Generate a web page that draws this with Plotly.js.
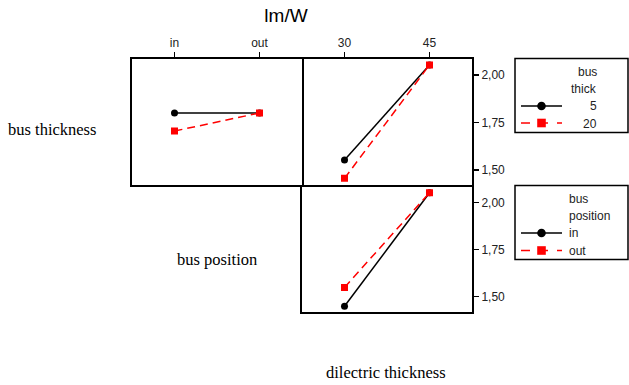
<!DOCTYPE html>
<html>
<head>
<meta charset="utf-8">
<script src="https://cdn.plot.ly/plotly-3.0.1.min.js"></script>
<style>html,body{margin:0;padding:0;background:#fff;}#chart{width:629px;height:385px;}</style>
</head>
<body>
<div id="chart"></div>
<script>
// ---- data ----
var busPositionCats = ['in', 'out'];
var dielectricCats = ['30', '45'];
var thick5_byPosition = [1.80, 1.80];
var thick20_byPosition = [1.705, 1.80];
var thick5_byDielectric = [1.553, 2.053];
var thick20_byDielectric = [1.456, 2.053];
var posIn_byDielectric = [1.45, 2.053];
var posOut_byDielectric = [1.55, 2.053];
var yTickVals = [1.50, 1.75, 2.00];
var legend1Labels = ['5', '20'];
var legend2Labels = ['in', 'out'];

// ---- layout helpers ----
var W = 629, H = 385;
function px(x) { return x / W; }
function py(y) { return 1 - y / H; }

var blackLine = {color: '#000', width: 1.5};
var redLine = {color: '#ff0000', width: 1.5, dash: '8px,5px'};
var blackMarker = {color: '#000', size: 7, symbol: 'circle'};
var redMarker = {color: '#ff0000', size: 7, symbol: 'square'};

var traces = [
  {x: busPositionCats, y: thick5_byPosition, xaxis: 'x', yaxis: 'y', mode: 'lines+markers', line: blackLine, marker: blackMarker, showlegend: false, name: '5'},
  {x: busPositionCats, y: thick20_byPosition, xaxis: 'x', yaxis: 'y', mode: 'lines+markers', line: redLine, marker: redMarker, showlegend: false, name: '20'},
  {x: dielectricCats, y: thick5_byDielectric, xaxis: 'x2', yaxis: 'y2', mode: 'lines+markers', line: blackLine, marker: blackMarker, showlegend: false, name: '5'},
  {x: dielectricCats, y: thick20_byDielectric, xaxis: 'x2', yaxis: 'y2', mode: 'lines+markers', line: redLine, marker: redMarker, showlegend: false, name: '20'},
  {x: dielectricCats, y: posIn_byDielectric, xaxis: 'x3', yaxis: 'y3', mode: 'lines+markers', line: blackLine, marker: blackMarker, showlegend: false, name: 'in'},
  {x: dielectricCats, y: posOut_byDielectric, xaxis: 'x3', yaxis: 'y3', mode: 'lines+markers', line: redLine, marker: redMarker, showlegend: false, name: 'out'}
];

var tickFont = {family: 'Liberation Sans, Arial, sans-serif', size: 12, color: '#222'};
function frameAxis(extra) {
  var a = {showline: true, mirror: true, linecolor: '#000', linewidth: 2, showgrid: false, zeroline: false,
           tickfont: tickFont, tickcolor: '#000', tickwidth: 1.2, fixedrange: true};
  for (var k in extra) a[k] = extra[k];
  return a;
}
var topY = [py(185.3), py(58.5)];
var botY = [py(312.4), py(185.3)];
var leftX = [px(132), px(302)];
var rightX = [px(302), px(472)];
var topRange = [1.4195, 2.0868];
var botRange = [1.417, 2.0926];

var layout = {
  width: W, height: H,
  margin: {l: 0, r: 0, t: 0, b: 0},
  paper_bgcolor: '#fff', plot_bgcolor: '#fff',
  separators: ',.',
  showlegend: false,
  title: {text: 'lm/W', x: px(286), y: py(15), xref: 'paper', yref: 'paper', xanchor: 'center', yanchor: 'middle',
          font: {family: 'Liberation Sans, Arial, sans-serif', size: 19, color: '#000'}},
  xaxis: frameAxis({domain: leftX, anchor: 'y', side: 'top', type: 'category', categoryarray: busPositionCats, range: [-0.5, 1.5], ticks: 'outside', ticklen: 5}),
  yaxis: frameAxis({domain: topY, anchor: 'x', range: topRange, showticklabels: false, ticks: ''}),
  xaxis2: frameAxis({domain: rightX, anchor: 'y2', side: 'top', type: 'category', categoryarray: dielectricCats, range: [-0.5, 1.5], ticks: 'outside', ticklen: 5}),
  yaxis2: frameAxis({domain: topY, anchor: 'x2', side: 'right', mirror: false, range: topRange, ticks: 'outside', ticklen: 5, tickvals: yTickVals, tickformat: '.2f'}),
  xaxis3: frameAxis({domain: rightX, anchor: 'y3', mirror: false, type: 'category', categoryarray: dielectricCats, range: [-0.5, 1.5], showticklabels: false, ticks: ''}),
  yaxis3: frameAxis({domain: botY, anchor: 'x3', side: 'right', range: botRange, ticks: 'outside', ticklen: 5, tickvals: yTickVals, tickformat: '.2f'}),
  annotations: [],
  shapes: []
};

var serif = {family: 'Liberation Serif, Times New Roman, serif', size: 16.5, color: '#000'};
function note(text, x, y, xanchor, font) {
  layout.annotations.push({text: text, x: px(x), y: py(y), xref: 'paper', yref: 'paper', xanchor: xanchor, yanchor: 'middle', showarrow: false, font: font});
}
note('bus thickness', 52, 129, 'center', serif);
note('bus position', 217, 259, 'center', serif);
note('dilectric thickness', 385.5, 372, 'center', serif);

// ---- legends drawn as boxes ----
var legFont = {family: 'Liberation Sans, Arial, sans-serif', size: 12, color: '#222'};
function legendBox(y0, y1) {
  layout.shapes.push({type: 'rect', xref: 'paper', yref: 'paper', x0: px(515), x1: px(628), y0: py(y1), y1: py(y0), line: {color: '#000', width: 1.5}, fillcolor: 'rgba(0,0,0,0)'});
}
function legendSample(y, isRed) {
  var ln = isRed ? {color: '#ff0000', width: 1.5, dash: 'dash'} : {color: '#000', width: 1.5};
  layout.shapes.push({type: 'line', xref: 'paper', yref: 'paper', x0: px(521), x1: px(562), y0: py(y), y1: py(y), line: ln});
  var r = 4.3;
  layout.shapes.push({type: isRed ? 'rect' : 'circle', xref: 'paper', yref: 'paper', x0: px(541.5 - r), x1: px(541.5 + r), y0: py(y + r), y1: py(y - r),
                      fillcolor: isRed ? '#ff0000' : '#000', line: {width: 0}});
}
legendBox(58.5, 132.5);
note('bus', 598.5, 72, 'right', legFont);
note('thick', 598.5, 89, 'right', legFont);
legendSample(106, false); note(legend1Labels[0], 599, 106, 'right', legFont);
legendSample(123, true); note(legend1Labels[1], 599, 123.5, 'right', legFont);

legendBox(185.5, 259.5);
note('bus', 567, 199, 'left', legFont);
note('position', 567, 216, 'left', legFont);
legendSample(233, false); note(legend2Labels[0], 567, 233, 'left', legFont);
legendSample(250.5, true); note(legend2Labels[1], 567, 251, 'left', legFont);

Plotly.newPlot('chart', traces, layout, {staticPlot: true, displayModeBar: false});
</script>
</body>
</html>
